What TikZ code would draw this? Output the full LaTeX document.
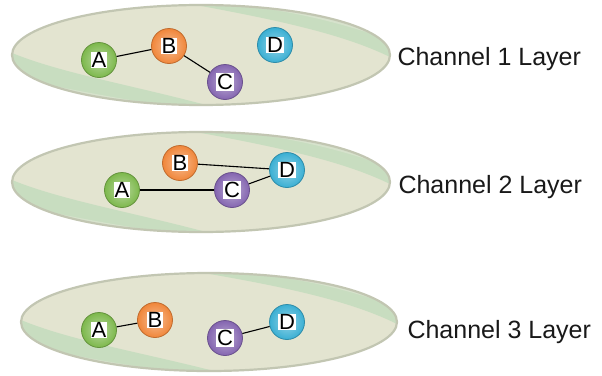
\documentclass[tikz,border=0pt]{standalone}
\usepackage{fontspec}
\setmainfont{Liberation Sans}
\begin{document}
\begin{tikzpicture}[x=1pt,y=-1pt,
  ball/.style={circle,minimum size=35pt,inner sep=0pt,draw=#1!80!black,line width=0.8pt,inner color=#1!55!white,outer color=#1},
  lbl/.style={fill=white,inner sep=0.8pt,text=black,font=\fontsize{22}{22}\selectfont},
  link/.style={draw=black,line width=1.1pt},
  chan/.style={anchor=west,font=\fontsize{25}{30}\selectfont,text=black!90}]
\definecolor{lay}{HTML}{E3E4D0}
\definecolor{rimc}{HTML}{C2C6B2}
\definecolor{bandc}{HTML}{C8DDC0}
\definecolor{streak}{HTML}{D6E2CC}
\definecolor{cA}{HTML}{7DB84C}
\definecolor{cB}{HTML}{F0863A}
\definecolor{cC}{HTML}{8465B0}
\definecolor{cD}{HTML}{3AAFD3}
\useasboundingbox[fill=white] (0,0) rectangle (602,375);
% layers
\foreach \cx/\cy/\rx/\ry in {201/55/189/50, 201/182/189/50, 209/322/188/49}{
  \begin{scope}
    \clip (\cx,\cy) ellipse [x radius=\rx, y radius=\ry];
    \fill[lay] (\cx,\cy) ellipse [x radius=\rx, y radius=\ry];
    \fill[bandc] (\cx-\rx,\cy-2) .. controls (\cx-140,\cy+18) and (\cx-70,\cy+30) .. (\cx+5,\cy+\ry) -- (\cx-\rx,\cy+\ry) -- cycle;
    \fill[streak] (\cx-\rx,\cy+22) .. controls (\cx-130,\cy+35) and (\cx-90,\cy+42) .. (\cx-40,\cy+\ry) -- (\cx-\rx,\cy+\ry) -- cycle;
    \fill[bandc] (\cx-5,\cy-\ry) .. controls (\cx+70,\cy-36) and (\cx+140,\cy-22) .. (\cx+\rx,\cy+2) -- (\cx+\rx,\cy-\ry) -- cycle;
    \fill[streak] (\cx+40,\cy-\ry) .. controls (\cx+100,\cy-42) and (\cx+140,\cy-32) .. (\cx+\rx,\cy-15) -- (\cx+\rx,\cy-\ry) -- cycle;
  \end{scope}
  \draw[rimc,line width=2.2pt] (\cx,\cy) ellipse [x radius=\rx, y radius=\ry];
}
% layer 1
\node[ball=cA] (a1) at (99,60) {};
\node[ball=cB] (b1) at (169,46) {};
\node[ball=cC] (c1) at (225,82) {};
\node[ball=cD] (d1) at (275,45) {};
\draw[link] (a1) -- (b1);
\draw[link] (b1) -- (c1);
% layer 2
\node[ball=cA] (a2) at (122,190) {};
\node[ball=cB] (b2) at (180,163) {};
\node[ball=cC] (c2) at (232,190) {};
\node[ball=cD] (d2) at (287,170) {};
\draw[link] (b2) -- (d2);
\draw[link] (a2) -- (c2);
\draw[link] (c2) -- (d2);
% layer 3
\node[ball=cA] (a3) at (99,330) {};
\node[ball=cB] (b3) at (155,320) {};
\node[ball=cC] (c3) at (225,338) {};
\node[ball=cD] (d3) at (287,322) {};
\draw[link] (a3) -- (b3);
\draw[link] (c3) -- (d3);
% letters
\foreach \n/\t in {a1/A,b1/B,c1/C,d1/D,a2/A,b2/B,c2/C,d2/D,a3/A,b3/B,c3/C,d3/D}{
  \node[lbl] (t\n) at (\n) {\t};
}
% channel labels
\node[chan] (l1) at (394,59) {Channel 1 Layer};
\node[chan] (l2) at (395,187) {Channel 2 Layer};
\node[chan] (l3) at (404,332) {Channel 3 Layer};
\end{tikzpicture}
\end{document}
